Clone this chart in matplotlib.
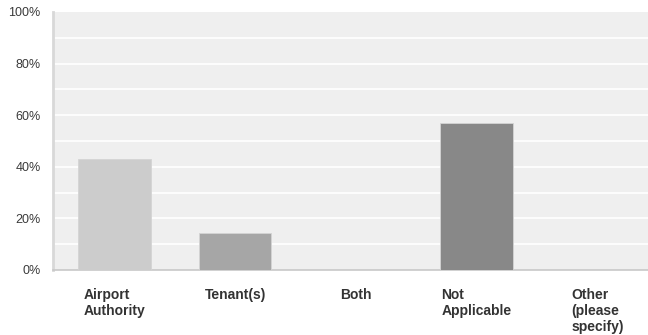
import matplotlib.pyplot as plt
import numpy as np

categories = ['Airport\nAuthority', 'Tenant(s)', 'Both', 'Not\nApplicable', 'Other\n(please\nspecify)']
percents = [42.86, 14.29, 0.0, 57.14, 0.0]
bar_colors = ['#cccccc', '#a6a6a6', '#bbbbbb', '#888888', '#999999']
tick_values = [0, 20, 40, 60, 80, 100]

plt.rcParams['font.family'] = ['Liberation Sans', 'DejaVu Sans']

fig = plt.figure(figsize=(6.48, 3.35), dpi=100)
ax = fig.add_axes([53 / 648, 65 / 335, 595 / 648, 258 / 335])
ax.set_facecolor('#efefef')

x = np.arange(len(categories))
ax.bar(x, percents, width=0.6, color=bar_colors, edgecolor='#d4d4d4', linewidth=0.6, zorder=3)

# white gridlines every 10%
for g in range(10, 100, 10):
    ax.axhline(g, color='white', linewidth=1.2, zorder=1)

ax.set_xlim(-0.51, 4.42)
ax.set_ylim(0, 100)
ax.set_yticks(tick_values)
ax.set_yticklabels([f'{v}%' for v in tick_values], fontsize=9, color='#3a3a3a')
ax.tick_params(axis='y', length=0, pad=9)
ax.tick_params(axis='x', length=0)
ax.set_xticks([])

for xi, lab in zip(x, categories):
    ax.text(xi, -6.8, lab, ha='center', va='top', multialignment='left',
            fontsize=10, fontweight='bold', color='#333333', linespacing=1.2)

for side in ['top', 'right']:
    ax.spines[side].set_visible(False)
ax.spines['left'].set_color('#d8d8d8')
ax.spines['left'].set_linewidth(2)
ax.spines['bottom'].set_color('#c8c8c8')
ax.spines['bottom'].set_linewidth(1.2)

fig.savefig('out.png', dpi=100)
